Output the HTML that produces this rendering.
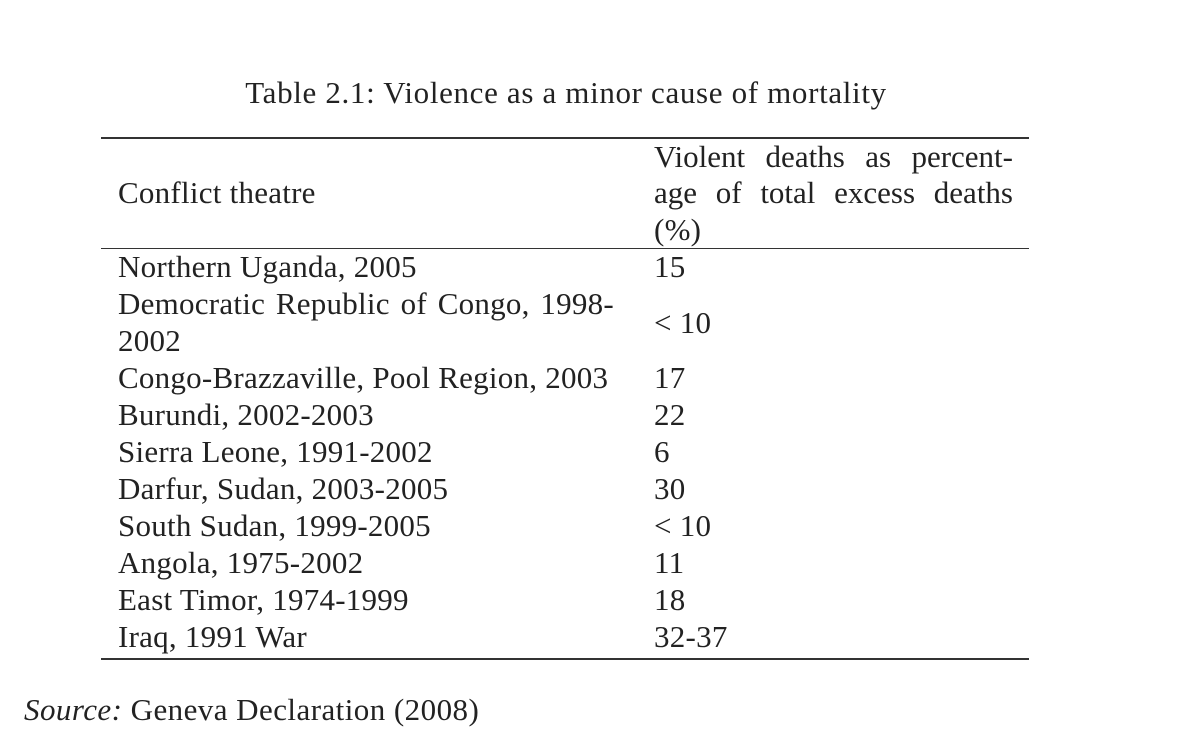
<!DOCTYPE html>
<html><head><meta charset="utf-8"><style>
body{margin:0;width:1186px;height:750px;background:#fff;position:relative;overflow:hidden;font-family:"Liberation Serif",serif;color:#222;}
.t{position:absolute;font-size:31px;line-height:37px;white-space:nowrap;letter-spacing:0.25px;}
.r{position:absolute;left:101px;width:928px;background:#333;}
.j{text-align:justify;text-align-last:justify;width:359px;letter-spacing:0px;}
</style></head><body>
<div class="t" style="left:0;width:1132px;text-align:center;top:74px;letter-spacing:0.66px">Table 2.1: Violence as a minor cause of mortality</div>
<div class="r" style="top:137px;height:1.5px"></div>
<div class="r" style="top:248px;height:1.2px"></div>
<div class="r" style="top:658px;height:1.5px"></div>
<div class="t" style="left:118px;top:174px">Conflict theatre</div>
<div class="t j" style="left:654px;top:138px">Violent deaths as percent-</div>
<div class="t j" style="left:654px;top:174px">age of total excess deaths</div>
<div class="t" style="left:654px;top:211px">(%)</div>
<div class="t" style="left:24px;top:691px;letter-spacing:0.45px"><i>Source:</i> Geneva Declaration (2008)</div>
<script>
const theatres=["Northern Uganda, 2005","Democratic Republic of Congo, 1998-","2002","Congo-Brazzaville, Pool Region, 2003","Burundi, 2002-2003","Sierra Leone, 1991-2002","Darfur, Sudan, 2003-2005","South Sudan, 1999-2005","Angola, 1975-2002","East Timor, 1974-1999","Iraq, 1991 War"];
const values=["15","","","17","22","6","30","< 10","11","18","32-37"];
const body=document.body;
theatres.forEach((t,i)=>{
  const top=248+i*37;
  const a=document.createElement('div');a.className='t';
  
  
  a.style.left='118px';a.style.top=top+'px';
  if(i==1){a.style.width='496px';a.style.textAlign='justify';a.style.textAlignLast='justify';}
  a.textContent=t;body.appendChild(a);
  if(values[i]){
    const b=document.createElement('div');b.className='t';
    
    
    b.style.left='654px';b.style.top=top+'px';b.textContent=values[i];body.appendChild(b);
  }
});
const c=document.createElement('div');c.className='t';


c.style.left='654px';c.style.top=(248+37*1.5)+'px';c.textContent='< 10';body.appendChild(c);
</script>
</body></html>
